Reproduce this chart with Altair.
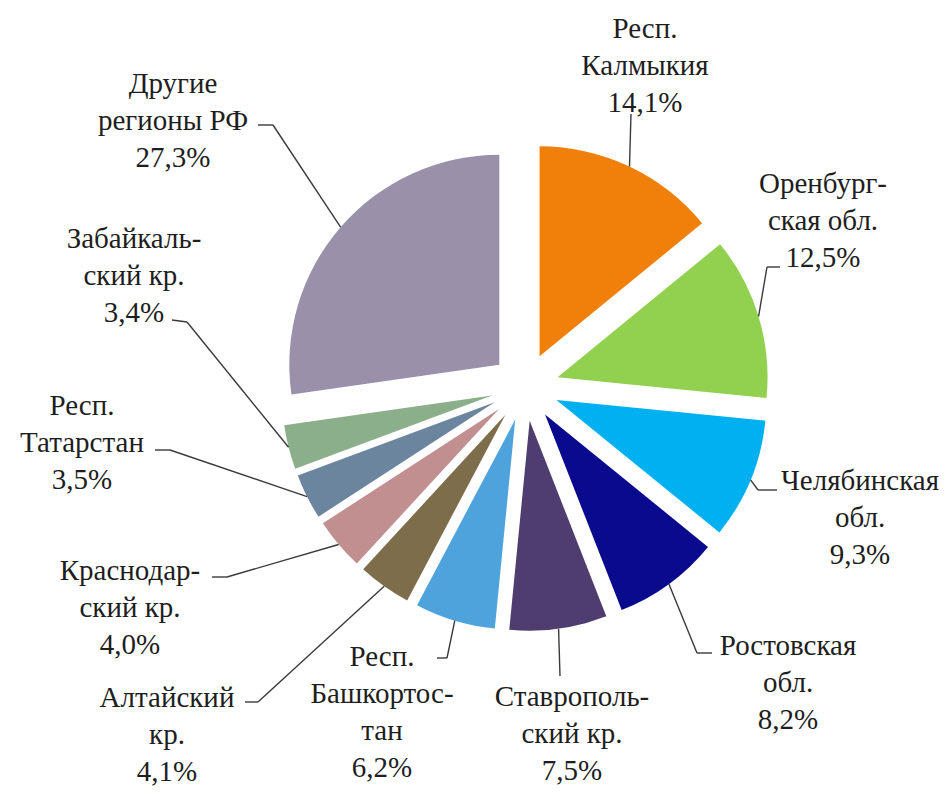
import math
import altair as alt
import pandas as pd

# ---------------- data ----------------
regions = [
    "Респ.\nКалмыкия",
    "Оренбург-\nская обл.",
    "Челябинская\nобл.",
    "Ростовская\nобл.",
    "Ставрополь-\nский кр.",
    "Респ.\nБашкортос-\nтан",
    "Алтайский\nкр.",
    "Краснодар-\nский кр.",
    "Респ.\nТатарстан",
    "Забайкаль-\nский кр.",
    "Другие\nрегионы РФ",
]
shares = [14.1, 12.5, 9.3, 8.2, 7.5, 6.2, 4.1, 4.0, 3.5, 3.4, 27.3]

colors = [
    "#F08009", "#92D050", "#00B0F0", "#0A0A8E", "#4E3D6E", "#4FA3DC",
    "#7D6D4B", "#C18F8F", "#6B859F", "#8BAE8B", "#9A90AA",
]

# ---------------- layout (page pixels) ----------------
CX, CY = 525, 387      # pie centre
EXPLODE = 34           # explosion distance
R = 210                # radius

# label text anchor (first-line baseline), leader elbow and leader end
label_tx = [645, 823, 860, 788, 572, 382, 167, 130, 82, 134, 173]
label_ty = [38, 193, 490, 655, 706, 666, 707, 580, 415, 248, 93]
elbow_x = [631, 767, 758, 697, 560, 447, 258, 227, 170, 187, 273]
elbow_y = [114, 267, 490, 653, 676, 658, 702, 577, 450, 322, 125]
end_x = [631, 780, 777, 712, 560, 437, 245, 212, 155, 172, 258]
end_y = [114, 267, 490, 653, 676, 658, 702, 577, 450, 320, 125]

W, H = 933, 778

df = pd.DataFrame({
    "order": list(range(len(regions))),
    "name": regions,
    "value": shares,
    "tx": label_tx, "ty": label_ty,
    "ex": elbow_x, "ey": elbow_y,
    "lx": end_x, "ly": end_y,
})
df["label"] = [n + "\n" + f"{v:.1f}".replace(".", ",") + "%" for n, v in zip(regions, shares)]

xs = alt.Scale(domain=[8, 8 + W], range=[0, W], nice=False, zero=False)
ys = alt.Scale(domain=[8, 8 + H], range=[0, H], nice=False, zero=False)

base = alt.Chart()

arcs = base.mark_arc(radius=R, strokeWidth=0).encode(
    theta=alt.Theta("f0:Q", scale=alt.Scale(domain=[0, 1], range=[0, 2 * math.pi]), stack=False),
    theta2="f1:Q",
    x=alt.X("cx:Q", scale=xs, axis=None),
    y=alt.Y("cy:Q", scale=ys, axis=None),
    color=alt.Color("name:N", scale=alt.Scale(domain=regions, range=colors), legend=None),
)

lead1 = base.mark_rule(color="#3a3a3a", strokeWidth=1.4).encode(
    x=alt.X("px:Q", scale=xs, axis=None),
    y=alt.Y("py:Q", scale=ys, axis=None),
    x2="ex:Q",
    y2="ey:Q",
)
lead2 = base.mark_rule(color="#3a3a3a", strokeWidth=1.4).encode(
    x=alt.X("ex:Q", scale=xs, axis=None),
    y=alt.Y("ey:Q", scale=ys, axis=None),
    x2="lx:Q",
    y2="ly:Q",
)

labels = base.mark_text(
    font="'Liberation Serif', 'Times New Roman', 'DejaVu Serif', serif",
    fontSize=29, lineHeight=37, lineBreak="\n",
    align="center", baseline="alphabetic", color="#1e1e1e",
).encode(
    x=alt.X("tx:Q", scale=xs, axis=None),
    y=alt.Y("ty:Q", scale=ys, axis=None),
    text="label:N",
)

chart = alt.layer(arcs, lead1, lead2, labels, data=df).transform_window(
    cum="sum(value)", sort=[alt.SortField("order")], frame=[None, 0]
).transform_joinaggregate(
    total="sum(value)"
).transform_calculate(
    f1="datum.cum / datum.total",
    f0="(datum.cum - datum.value) / datum.total",
).transform_calculate(
    mid="PI * (datum.f0 + datum.f1)",
).transform_calculate(
    cx=f"{CX} + {EXPLODE} * sin(datum.mid)",
    cy=f"{CY} - {EXPLODE} * cos(datum.mid)",
).transform_calculate(
    px=f"datum.cx + {R} * sin(datum.mid)",
    py=f"datum.cy - {R} * cos(datum.mid)",
).properties(
    width=W, height=H, padding=0, autosize="none", background="white"
).configure_view(stroke=None)

chart.save("out.html", embed_options={"renderer": "svg", "actions": False})
